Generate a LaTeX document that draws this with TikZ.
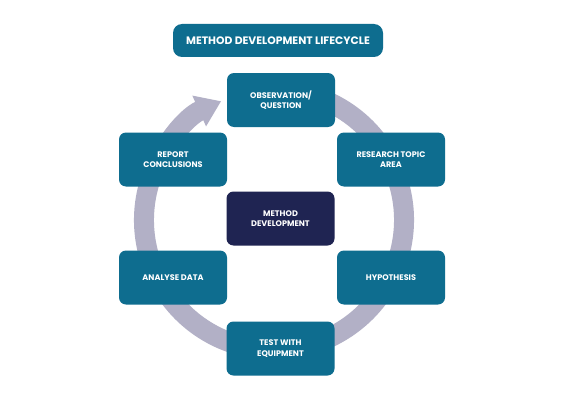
\documentclass[tikz,border=0pt]{standalone}
\usepackage{fontspec}
\setmainfont{Poppins}
\usetikzlibrary{arrows.meta,calc}
\definecolor{tealbox}{RGB}{14,109,143}
\definecolor{navybox}{RGB}{31,36,82}
\definecolor{ringcol}{RGB}{178,176,198}
\begin{document}
\begin{tikzpicture}[x=1pt,y=1pt,
  box/.style={rounded corners=7pt, fill=tealbox, minimum width=108pt, minimum height=54pt,
    text=white, font=\bfseries\fontsize{8.1}{10.6}\selectfont, align=center, inner sep=0pt},
  titlebox/.style={box, minimum width=210pt, minimum height=33pt, rounded corners=9pt,
    font=\bfseries\fontsize{10.8}{12}\selectfont},
  centerbox/.style={box, fill=navybox},
  ringarrow/.style={draw=ringcol, line width=20pt, -{Triangle[width=32pt,length=24pt]}}]
\useasboundingbox[fill=white] (0,0) rectangle (565,400);
\coordinate (c) at (274,180);
\coordinate (s) at ($(c)+(75:130)$);
\draw[ringarrow] (s) arc[start angle=75, end angle=-246, radius=130];
\node[titlebox] (title) at (278,359.5) {METHOD DEVELOPMENT LIFECYCLE};
\node[box] (obs) at (281,300) {OBSERVATION/\\QUESTION};
\node[box] (rta) at (391,240.5) {RESEARCH TOPIC\\AREA};
\node[box] (hyp) at (391,122.5) {HYPOTHESIS};
\node[box] (test) at (280.5,51.5) {TEST WITH\\EQUIPMENT};
\node[box] (ana) at (173,122.5) {ANALYSE DATA};
\node[box] (rep) at (173,240.5) {REPORT\\CONCLUSIONS};
\node[centerbox] (md) at (280.5,181.5) {METHOD\\DEVELOPMENT};
\end{tikzpicture}
\end{document}
